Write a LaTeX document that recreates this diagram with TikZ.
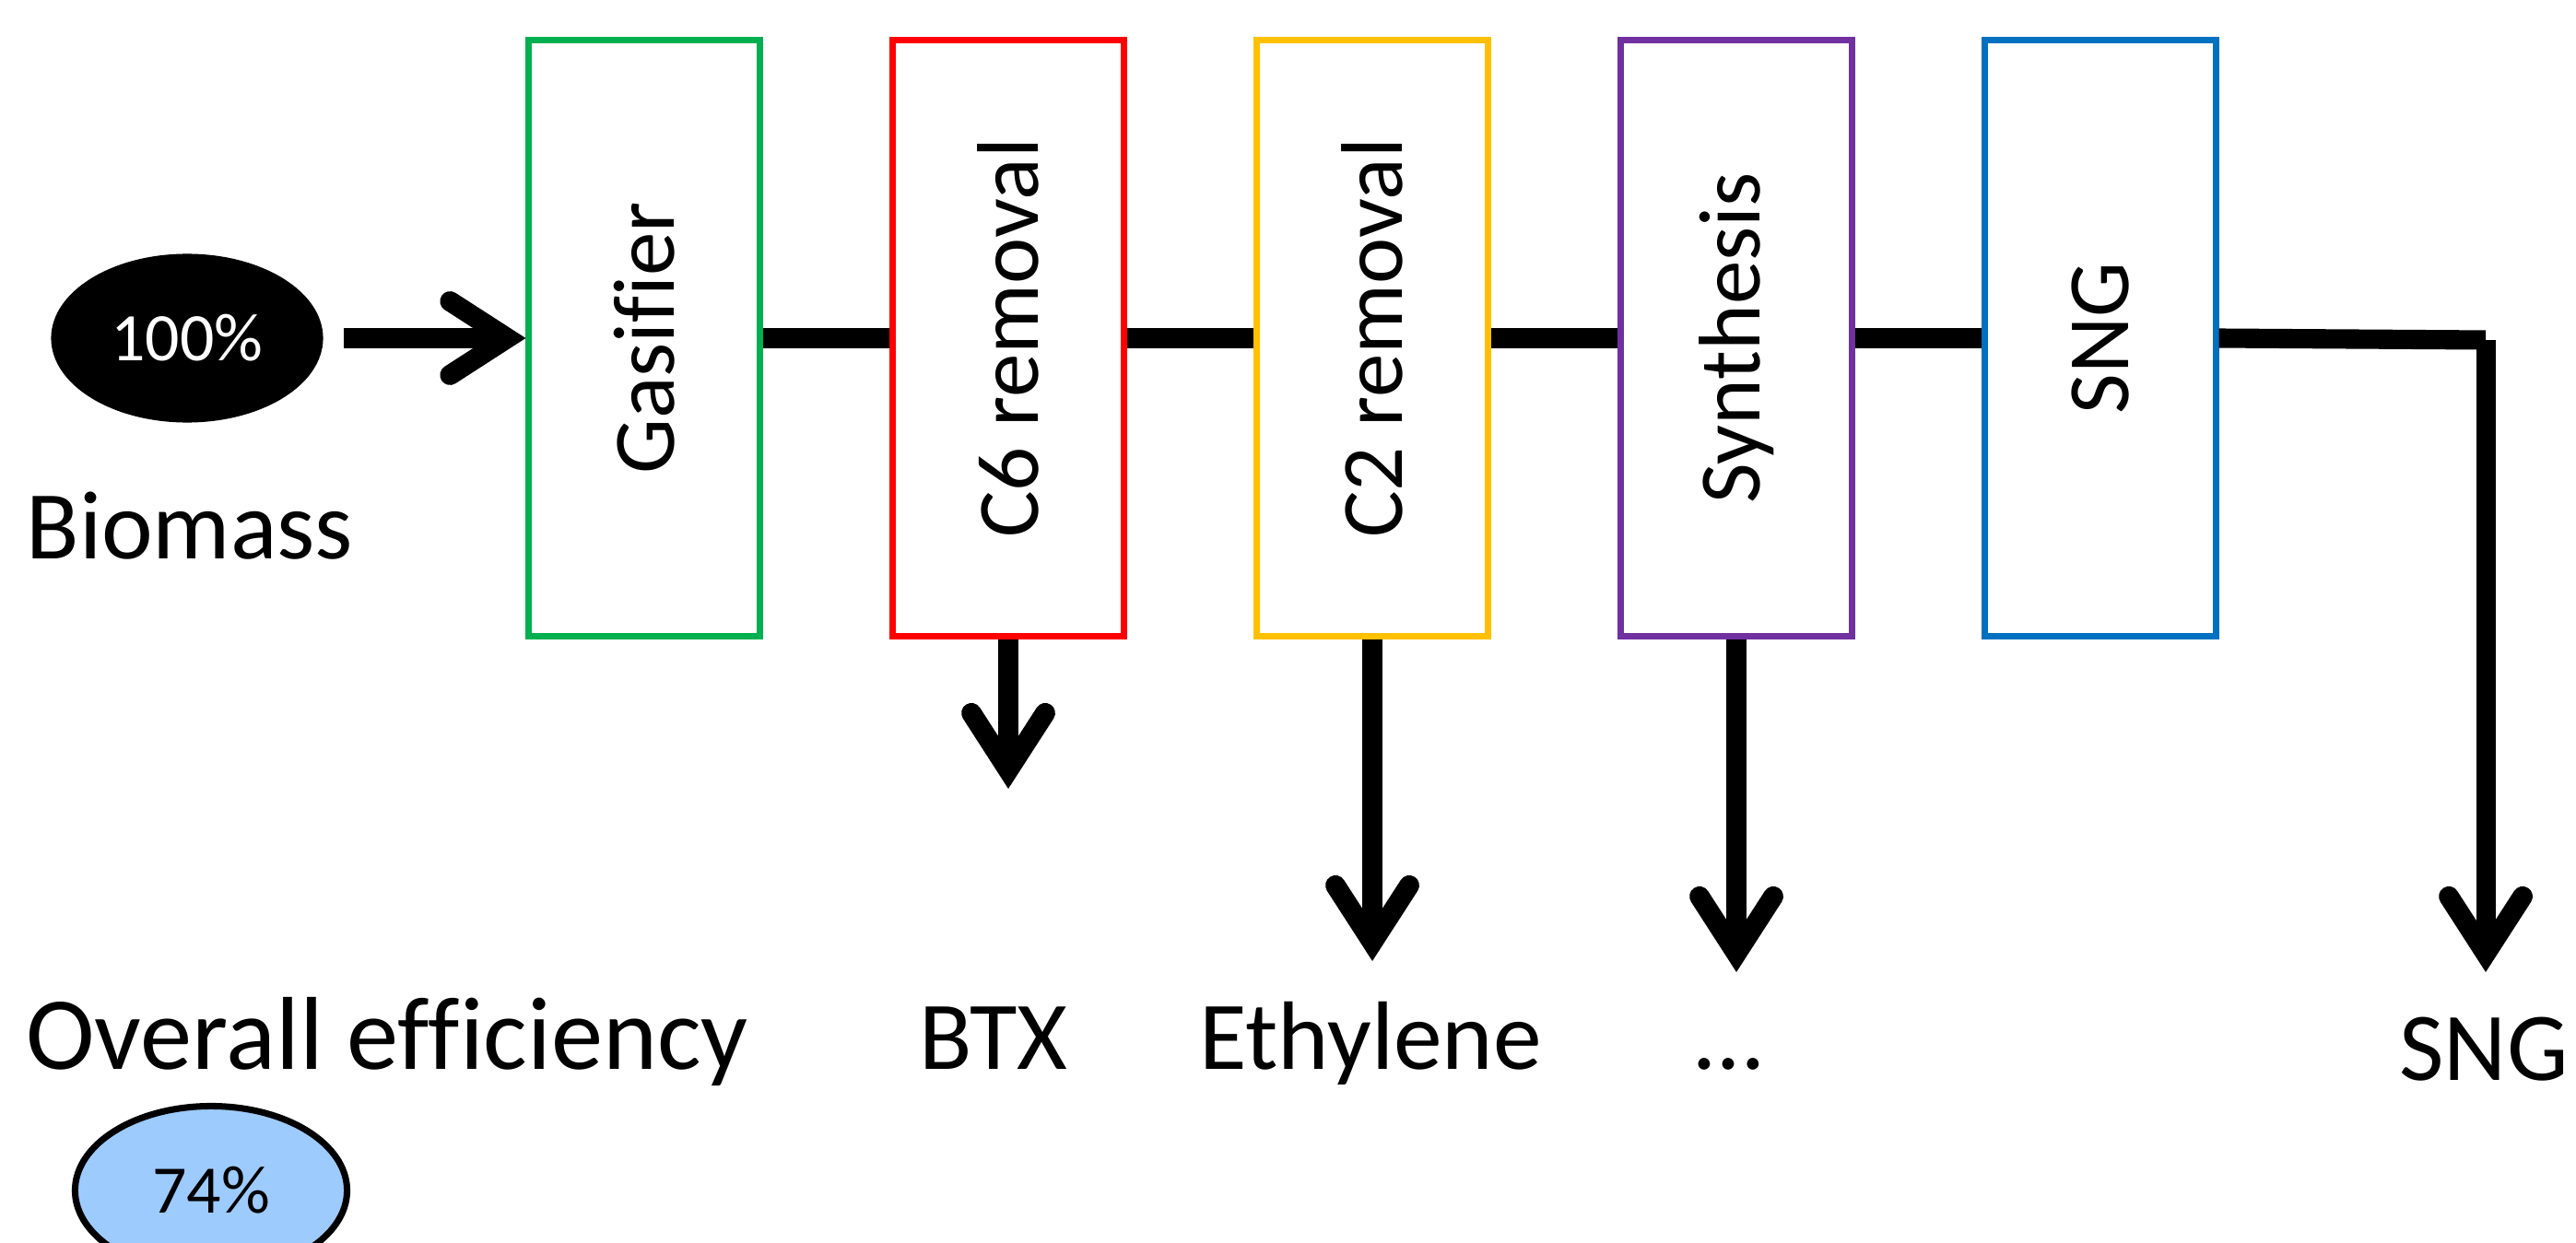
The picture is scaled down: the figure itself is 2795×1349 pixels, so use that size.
\documentclass[tikz,border=0pt]{standalone}
\usepackage{fontspec}
\setmainfont{Carlito}[Ligatures=NoCommon]
\usetikzlibrary{arrows.meta,shapes.geometric}

\definecolor{gasgreen}{HTML}{00B050}
\definecolor{remred}{HTML}{FF0000}
\definecolor{remyellow}{HTML}{FFC000}
\definecolor{synpurple}{HTML}{7030A0}
\definecolor{sngblue}{HTML}{0070C0}
\definecolor{efffill}{HTML}{9DCBFD}

\tikzset{
  unit/.style={draw=#1, line width=2pt, minimum width=2.5cm, minimum height=6.46cm, inner sep=0pt},
  unittext/.style={rotate=90, font=\fontsize{27}{32}\selectfont},
  biglabel/.style={anchor=base, font=\fontsize{30}{36}\selectfont},
  flow/.style={line width=6pt},
  arrowed/.style={flow, -{Straight Barb[length=0.62cm, width=0.8cm, line width=6.2pt, line cap=round, line join=miter]}},
  pct/.style={ellipse, inner sep=0pt, minimum width=2.95cm, minimum height=1.83cm, font=\fontsize{21}{25}\selectfont}
}

\begin{document}
\begin{tikzpicture}[x=0.01cm, y=-0.01cm]
\useasboundingbox (0,0) rectangle (2795,1349);

% process units
\node[unit=gasgreen]   (gas) at (699,367) {};
\node[unit=remred]     (c6)  at (1094,367) {};
\node[unit=remyellow]  (c2)  at (1489,367) {};
\node[unit=synpurple]  (syn) at (1884,367) {};
\node[unit=sngblue]    (sng) at (2279,367) {};

\node[unittext] (gas-t) at (gas.center) {Gasifier};
\node[unittext] (c6-t)  at (c6.center)  {C6 removal};
\node[unittext] (c2-t)  at (c2.center)  {C2 removal};
\node[unittext] (syn-t) at (syn.center) {Synthesis};
\node[unittext] (sng-t) at (sng.center) {SNG};

% feed
\node[pct, fill=black, text=white] (feed) at (203,367) {100\%};
\node[biglabel] (biomass) at (206,606) {Biomass};

% main gas line
\draw[arrowed] ([xshift=0.22cm]feed.east) -- (gas.west);
\draw[flow] (gas.east) -- (c6.west);
\draw[flow] (c6.east) -- (c2.west);
\draw[flow] (c2.east) -- (syn.west);
\draw[flow] (syn.east) -- (sng.west);

% product draws
\coordinate (btx-end) at (1094,856);
\coordinate (eth-end) at (1489,1043);
\coordinate (syn-end) at (1884,1055);
\coordinate (corner)  at (2697,369);
\coordinate (sng-end) at (2697,1055);

\draw[arrowed] (c6.south) -- (btx-end);
\draw[arrowed] (c2.south) -- (eth-end);
\draw[arrowed] (syn.south) -- (syn-end);
\draw[flow] (sng.east) -- (corner);
\draw[arrowed] (corner) -- (sng-end);

% product names
\node[biglabel] (btx)  at (1078,1160) {BTX};
\node[biglabel] (eth)  at (1487,1160) {Ethylene};
\node[biglabel] (more) at (1876,1160) {…};
\node[biglabel] (sngp) at (2695,1172) {SNG};

% overall efficiency
\node[biglabel, font=\fontsize{32}{38}\selectfont] (eff) at (420,1160) {Overall efficiency};
\node[pct, draw=black, line width=2pt, fill=efffill] (effval) at (229,1292) {74\%};
\end{tikzpicture}
\end{document}
